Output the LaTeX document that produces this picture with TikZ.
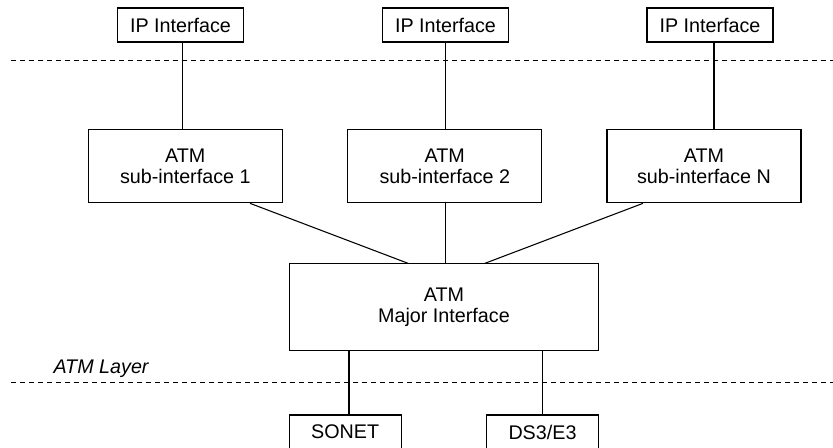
\documentclass[tikz,border=0pt]{standalone}
\usepackage{fontspec}
\setmainfont{Liberation Sans}
\usepackage{tikz}

\begin{document}
\begin{tikzpicture}[x=0.75pt,y=-0.75pt,
    line width=0.8pt,
    ifbox/.style={draw, inner sep=0pt, align=center, minimum height=25.5pt},
    subbox/.style={draw, inner sep=0pt, align=center, minimum width=145.5pt, minimum height=54.75pt},
    layerline/.style={line width=0.8pt, dash pattern=on 3.75pt off 3pt}]
            \useasboundingbox (0.000000,0.000000) rectangle (833.000000,448.000000);
            \clip (0.000000,0.000000) rectangle (833.000000,448.000000);
            {\fontsize{14.8}{15.2}\selectfont

            % Marking IP interfaces
            \node [ifbox, minimum width=94.5pt] (ip1) at (180.500000,25.000000) {IP Interface};%
            \node [ifbox, minimum width=94.5pt] (ip2) at (445.500000,25.000000) {IP Interface};%
            \node [ifbox, minimum width=94.5pt] (ip3) at (710.000000,25.000000) {IP Interface};%

            % Marking ATM sub-interfaces
            \node [subbox] (sub1) at (185.300000,166.300000) {ATM\\sub-interface 1};%
            \node [subbox] (sub2) at (444.800000,166.300000) {ATM\\sub-interface 2};%
            \node [subbox] (subN) at (704.000000,166.300000) {ATM\\sub-interface N};%

            % Marking major interface
            \node [draw, inner sep=0pt, align=center, minimum width=232pt, minimum height=65pt]
                (major) at (444.000000,307.300000) {ATM\\Major Interface};%

            % Marking physical layers
            \node [ifbox, minimum width=83.8pt] (sonet) at (345.200000,432.000000) {SONET};%
            \node [ifbox, minimum width=84.3pt] (ds3) at (542.500000,432.000000) {DS3/E3};%

            % Drawing layer borders
            \draw [layerline] (11.000000,60.700000) -- (833.000000,60.700000);%
            \draw [layerline] (11.000000,382.700000) -- (833.000000,382.700000);%
            \draw (53.000000,368.300000) node [anchor=west, inner sep=0pt] {\itshape ATM Layer};%

            % Drawing lines IP -> sub-interface
            \draw (ip1.south -| 182.700000,0) -- (sub1.north -| 182.700000,0);%
            \draw (ip2.south -| 445.700000,0) -- (sub2.north -| 445.700000,0);%
            \draw (ip3.south -| 714.000000,0) -- (subN.north -| 714.000000,0);%

            % Drawing lines sub-interface -> major
            \draw ([shift={(64.700000,0)}]sub1.south) -- ([shift={(-35.700000,0)}]major.north);%
            \draw (sub2.south -| 445.700000,0) -- (major.north -| 445.700000,0);%
            \draw ([shift={(-61.000000,0)}]subN.south) -- ([shift={(40.700000,0)}]major.north);%

            % Drawing lines major -> physical
            \draw (major.south -| 349.000000,0) -- (sonet.north -| 349.000000,0);%
            \draw (major.south -| 542.700000,0) -- (ds3.north -| 542.700000,0);%
            }
\end{tikzpicture}
\end{document}
